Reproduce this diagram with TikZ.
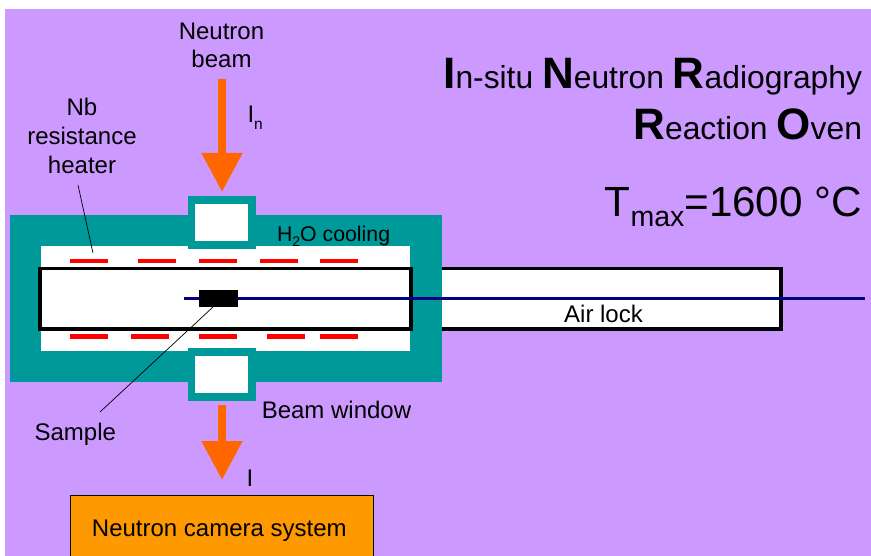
\documentclass[tikz,border=0pt]{standalone}
\usepackage{fontspec}
\setmainfont{Liberation Sans}
\usetikzlibrary{arrows.meta}
\definecolor{bg}{RGB}{204,153,255}
\definecolor{teal1}{RGB}{0,153,153}
\definecolor{beam}{RGB}{255,102,0}
\definecolor{cam}{RGB}{255,153,0}
\definecolor{navy1}{RGB}{0,0,128}
\definecolor{heat}{RGB}{255,0,0}
\newcommand{\ttlcap}[1]{{\fontsize{44}{44}\selectfont\textbf{#1}}}
\tikzset{
  x=1pt,y=-1pt,
  txt/.style={inner sep=0pt,outer sep=0pt,font=\fontsize{24}{28.6}\selectfont,align=center,text=black},
  ttl/.style={txt,anchor=base east,font=\fontsize{31.8}{40}\selectfont},
  beamarrow/.style={draw=beam,line width=8pt,-{Triangle[width=39pt,length=39pt,fill=beam]}},
  leader/.style={draw=black,line width=0.7pt},
  tubebox/.style={draw=black,line width=3.2pt,fill=white},
  heaterbar/.style={draw=none,fill=heat},
  tealfill/.style={fill=teal1,draw=none},
  whitefill/.style={fill=white,draw=none},
}
\begin{document}
\begin{tikzpicture}
\useasboundingbox (0,0) rectangle (871,556);
\fill[white] (0,0) rectangle (871,556);
\fill[bg] (5,9) rectangle (871,556);
% oven body
\fill[tealfill] (9.5,215) rectangle (441.5,382);
\fill[tealfill] (187.5,196) rectangle (256,249.5);
\fill[tealfill] (187.5,348) rectangle (256,401);
\fill[whitefill] (41,246) rectangle (410,351);
\fill[tealfill] (187.5,240) rectangle (256,249.5);
\fill[tealfill] (187.5,348) rectangle (256,357);
\fill[whitefill] (195,204) rectangle (248,241.5);
\fill[whitefill] (195,356) rectangle (248,393);
% heaters
\foreach \a in {70,138,199,259.5,320} \fill[heaterbar] (\a,258.8) rectangle (\a+38,263.2);
\foreach \a in {70,131,199,267,320} \fill[heaterbar] (\a,334.3) rectangle (\a+38,338.7);
% tube and air lock
\draw[tubebox] (40,268.5) rectangle (411,329);
\fill[whitefill] (441.5,268.5) rectangle (781,329);
\draw[tubebox,fill=none] (441.5,268.5) -- (781,268.5) -- (781,329) -- (441.5,329);
% axis
\coordinate (axisL) at (184,298.5);
\coordinate (axisR) at (865,298.5);
\draw[navy1,line width=2.3pt] (axisL) -- (axisR);
\node[fill=black,draw=none,inner sep=0pt,minimum width=39pt,minimum height=16.5pt] (sample) at (218,298.75) {};
% beam arrows
\coordinate (inA) at (222,79);
\coordinate (inB) at (222,192);
\coordinate (outA) at (222,405);
\coordinate (outB) at (222,480);
\draw[beamarrow] (inA) -- (inB);
\draw[beamarrow] (outA) -- (outB);
% camera
\node[draw=black,line width=0.8pt,fill=cam,inner sep=0pt,minimum width=303pt,minimum height=62pt,anchor=north west] (camera) at (70,495) {};
% texts
\node[txt] (tbeam) at (221.5,45.5) {Neutron\\beam};
\node[txt] (theater) at (82,136) {Nb\\resistance\\heater};
\node[txt,anchor=base west] (tin) at (247.5,122.5) {I\raisebox{-7pt}{\fontsize{15.5}{16}\selectfont n}};
\node[txt,anchor=base west,font=\fontsize{21.3}{25}\selectfont] (tcool) at (277,241.5) {H\raisebox{-5pt}{\fontsize{14}{16}\selectfont 2}O cooling};
\node[txt,anchor=base] (tair) at (603.5,322.4) {Air lock};
\node[txt,anchor=base] (tsample) at (75.3,440) {Sample};
\node[txt,anchor=base] (twindow) at (336.5,418) {Beam window};
\node[txt,anchor=base] (ti) at (250,486) {I};
\node[txt,anchor=base] (tcam) at (219.3,536.2) {Neutron camera system};
\node[ttl] (t1) at (862,88.5) {\ttlcap{I}n-situ \ttlcap{N}eutron \ttlcap{R}adiography};
\node[ttl] (t2) at (862,139.5) {\ttlcap{R}eaction \ttlcap{O}ven};
\node[txt,anchor=base east,font=\fontsize{42.2}{48}\selectfont] (t3) at (862,217) {T\raisebox{-10pt}{\fontsize{28.5}{30}\selectfont max}=1600 °C};
% leaders
\coordinate (hA) at (78,185);
\coordinate (hB) at (93,253);
\coordinate (sB) at (100,412);
\coordinate (sA) at (213,307);
\draw[leader] (hA) -- (hB);
\draw[leader] (sA) -- (sB);
\end{tikzpicture}
\end{document}
